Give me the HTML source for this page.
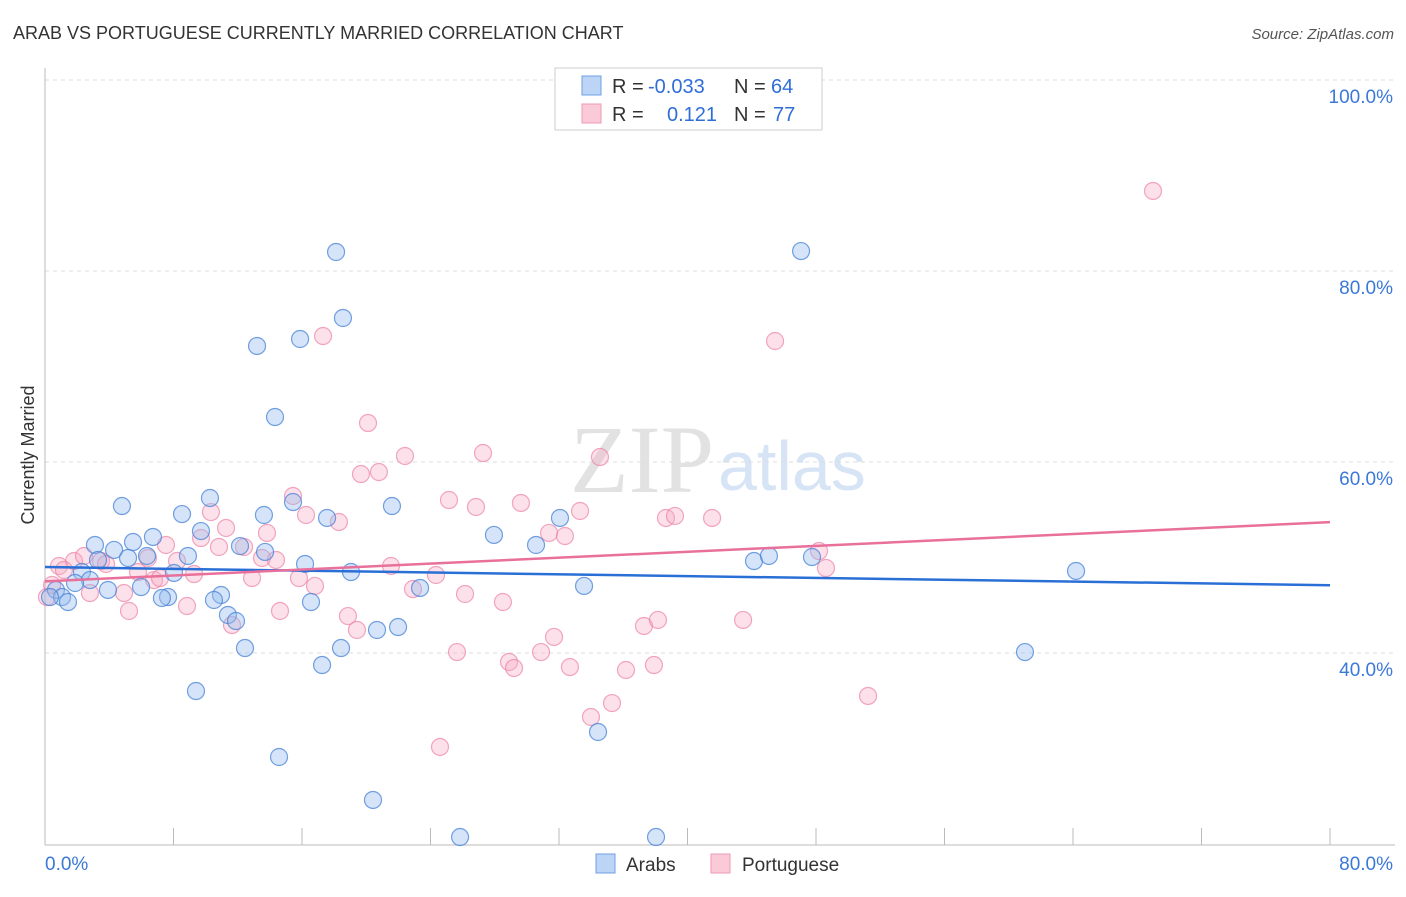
<!DOCTYPE html>
<html><head><meta charset="utf-8"><style>
body{margin:0;background:#fff;font-family:"Liberation Sans",sans-serif;}
</style></head><body>
<svg id="chart" width="1406" height="892" font-family="Liberation Sans, sans-serif">
<text x="13" y="39" font-size="18" fill="#333">ARAB VS PORTUGUESE CURRENTLY MARRIED CORRELATION CHART</text>
<text x="1394" y="39" font-size="15" fill="#555" text-anchor="end" font-style="italic">Source: ZipAtlas.com</text>
<text x="714" y="492" font-size="96" fill="#e2e2e2" text-anchor="end" style="font-family:'Liberation Serif',serif">ZIP</text>
<text x="718" y="490" font-size="70" fill="#d6e4f5">atlas</text>
<text x="34" y="455" font-size="18" fill="#333" text-anchor="middle" transform="rotate(-90 34 455)">Currently Married</text>
<g id="grid"></g><g id="marks"></g>
<g>
<rect x="555" y="68" width="267" height="62" fill="#fff" stroke="#ccc"/>
<rect x="582" y="76" width="19" height="19" fill="#bcd4f5" stroke="#6f9fe0"/>
<rect x="582" y="104" width="19" height="19" fill="#fbcad8" stroke="#ee9ab4"/>
<text y="93" font-size="20" fill="#333"><tspan x="612">R = </tspan><tspan x="648" fill="#2f6ed8">-0.033</tspan><tspan x="734">N = </tspan><tspan x="771" fill="#2f6ed8">64</tspan></text>
<text y="121" font-size="20" fill="#333"><tspan x="612">R = </tspan><tspan fill="#2f6ed8" x="667">0.121</tspan><tspan x="734">N = </tspan><tspan x="773" fill="#2f6ed8">77</tspan></text>
</g>
<g>
<rect x="596" y="854" width="19" height="19" fill="#bcd4f5" stroke="#6f9fe0"/>
<text x="626" y="871" font-size="19" fill="#333">Arabs</text>
<rect x="711" y="854" width="19" height="19" fill="#fbcad8" stroke="#ee9ab4"/>
<text x="742" y="871" font-size="19" fill="#333">Portuguese</text>
</g>
</svg>
<script>
const yTicks=[40,60,80,100];
const xTickLabels=["0.0%","80.0%"];
const arabs=[[336,252],[801,251],[343,318],[257,346],[300,339],[275,417],[122,506],[210,498],[182,514],[293,502],[264,515],[392,506],[327,518],[560,518],[494,535],[536,545],[153,537],[133,542],[95,545],[201,531],[240,546],[265,552],[114,550],[147,556],[188,556],[98,560],[128,558],[305,564],[351,572],[174,573],[82,572],[90,580],[754,561],[769,556],[812,557],[1076,571],[584,586],[420,588],[75,583],[108,590],[141,587],[221,595],[214,600],[168,597],[162,598],[311,602],[56,590],[62,597],[68,602],[228,615],[236,621],[398,627],[377,630],[245,648],[341,648],[322,665],[1025,652],[196,691],[598,732],[279,757],[373,800],[460,837],[656,837],[50,597]].map(p=>[+((p[0]-45)/16.0625).toFixed(2),+(100-(p[1]-80)/9.55).toFixed(2)]);
const portuguese=[[1153,191],[323,336],[775,341],[368,423],[405,456],[483,453],[600,457],[379,472],[361,474],[293,496],[449,500],[476,507],[521,503],[211,512],[306,515],[339,522],[580,511],[666,518],[675,516],[712,518],[267,533],[226,528],[549,533],[565,536],[201,538],[244,547],[219,547],[166,545],[177,561],[148,558],[74,561],[84,556],[101,561],[106,564],[59,566],[64,570],[262,558],[276,560],[391,566],[819,551],[826,568],[138,572],[194,574],[154,580],[160,578],[252,578],[299,578],[436,575],[315,586],[413,589],[465,594],[503,602],[90,593],[124,593],[129,611],[187,606],[280,611],[348,616],[357,630],[232,625],[554,637],[644,626],[658,620],[743,620],[457,652],[541,652],[509,662],[514,668],[570,667],[626,670],[654,665],[868,696],[612,703],[591,717],[440,747],[47,597],[52,585]].map(p=>[+((p[0]-45)/16.0625).toFixed(2),+(100-(p[1]-80)/9.55).toFixed(2)]);
const arabTrend=[49.0,47.1];
const portTrend=[47.5,53.7];
const X=v=>45+v*16.0625, Y=v=>80+(100-v)*9.55;
const NS="http://www.w3.org/2000/svg";
const grid=document.getElementById('grid'), marks=document.getElementById('marks');
function mk(tag,attrs,parent){const e=document.createElementNS(NS,tag);for(const k in attrs)e.setAttribute(k,attrs[k]);parent.appendChild(e);return e;}
yTicks.forEach(t=>{
 const l=mk('line',{x1:45,x2:1395,y1:Y(t),y2:Y(t),stroke:'#ddd','stroke-dasharray':'4,4'},grid);
 
 
 const tx=mk('text',{x:1393,y:Y(t)+23,'font-size':19,fill:'#3b78d8','text-anchor':'end'},grid);
 tx.textContent=t.toFixed(1)+'%';
 
 
});
mk('line',{x1:45,x2:45,y1:68,y2:845,stroke:'#bbb'},grid);
const xa=mk('line',{x1:45,x2:1395,y1:845,y2:845,stroke:'#bbb'},grid);


for(let i=0;i<=10;i++){mk('line',{x1:X(i*8),x2:X(i*8),y1:828,y2:845,stroke:'#bbb'},grid);}
const xl0=mk('text',{x:45,y:870,'font-size':19,fill:'#3b78d8'},grid);xl0.textContent=xTickLabels[0];


const xl1=mk('text',{x:1393,y:870,'font-size':19,fill:'#3b78d8','text-anchor':'end'},grid);xl1.textContent=xTickLabels[1];


portuguese.forEach(p=>{const c=mk('circle',{cx:X(p[0]),cy:Y(p[1]),r:8.5,fill:'rgba(246,168,194,0.35)',stroke:'rgba(236,130,165,0.7)','stroke-width':1.2},marks);
 
 });
arabs.forEach(p=>{const c=mk('circle',{cx:X(p[0]),cy:Y(p[1]),r:8.5,fill:'rgba(150,188,238,0.4)',stroke:'rgba(70,130,215,0.75)','stroke-width':1.2},marks);
 
 });
const t1=mk('line',{x1:X(0),x2:X(80),y1:Y(arabTrend[0]),y2:Y(arabTrend[1]),stroke:'#2a6fd6','stroke-width':2.5},marks);


const t2=mk('line',{x1:X(0),x2:X(80),y1:Y(portTrend[0]),y2:Y(portTrend[1]),stroke:'#e8709a','stroke-width':2.5},marks);


</script>
</body></html>
